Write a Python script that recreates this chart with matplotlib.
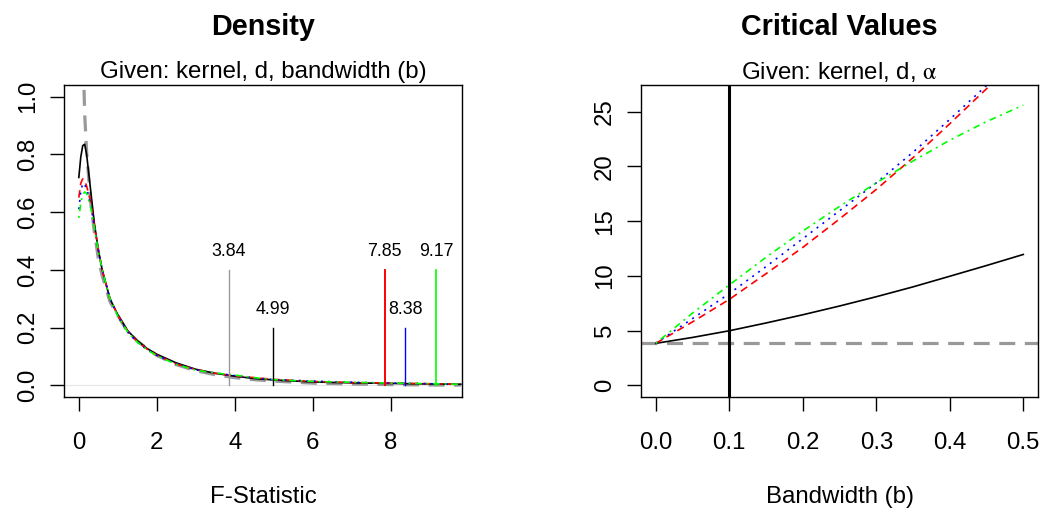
import matplotlib
matplotlib.use("Agg")
import matplotlib.pyplot as plt

plt.rcParams['font.family'] = ['Liberation Sans', 'DejaVu Sans']
plt.rcParams['mathtext.fontset'] = 'stix'

# density panel: F-statistic grid and estimated densities
f_grid = [0, 0.05, 0.1, 0.15, 0.2, 0.3, 0.4, 0.5, 0.6, 0.8, 1.0, 1.25, 1.5, 1.75,
          2.0, 2.5, 3.0, 3.5, 4.0, 4.5, 5.0, 6.0, 7.0, 8.0, 9.0, 9.8]
dens_black = [0.72, 0.79, 0.83, 0.835, 0.80, 0.68, 0.56, 0.47, 0.40, 0.30, 0.245, 0.19, 0.155,
              0.128, 0.108, 0.078, 0.056, 0.042, 0.032, 0.024, 0.019, 0.012, 0.009, 0.007, 0.005, 0.004]
dens_red = [0.65, 0.70, 0.715, 0.71, 0.69, 0.64, 0.55, 0.47, 0.40, 0.30, 0.243, 0.188, 0.152,
            0.126, 0.105, 0.074, 0.055, 0.042, 0.033, 0.027, 0.021, 0.014, 0.010, 0.008, 0.006, 0.004]
dens_blue = [0.61, 0.67, 0.70, 0.695, 0.68, 0.63, 0.55, 0.47, 0.40, 0.30, 0.24, 0.185, 0.150,
             0.124, 0.104, 0.075, 0.054, 0.043, 0.034, 0.026, 0.020, 0.015, 0.011, 0.008, 0.006, 0.004]
dens_green = [0.58, 0.63, 0.66, 0.67, 0.665, 0.62, 0.545, 0.465, 0.40, 0.30, 0.24, 0.186, 0.150,
              0.124, 0.103, 0.073, 0.053, 0.043, 0.036, 0.027, 0.020, 0.014, 0.011, 0.008, 0.006, 0.004]

# chi-square(1) reference density
chi_grid = [0.1, 0.15, 0.2, 0.3, 0.4, 0.5, 0.6, 0.8, 1.0, 1.25, 1.5, 1.75, 2.0, 2.5, 3.0,
            3.5, 4.0, 4.5, 5.0, 6.0, 7.0, 8.0, 9.0, 9.8]
chi_dens = [1.2, 0.94, 0.81, 0.64, 0.53, 0.44, 0.38, 0.29, 0.242, 0.187, 0.154, 0.128, 0.104,
            0.072, 0.051, 0.037, 0.027, 0.020, 0.015, 0.008, 0.005, 0.003, 0.0015, 0.001]

# critical values with their marker heights
crit_vals = [3.84, 4.99, 7.85, 8.38, 9.17]
crit_tops = [0.4, 0.2, 0.4, 0.2, 0.4]
crit_cols = ['#999999', 'black', 'red', 'blue', '#00FF00']
crit_lw = [1.0, 1.0, 1.4, 1.0, 1.2]

# critical values vs bandwidth
bw = [0, 0.05, 0.1, 0.15, 0.2, 0.25, 0.3, 0.35, 0.4, 0.45, 0.5]
cv_black = [3.84, 4.38, 4.99, 5.7, 6.45, 7.25, 8.1, 9.0, 9.97, 10.95, 11.96]
cv_red = [3.84, 5.8, 7.85, 10.2, 12.6, 15.2, 17.9, 20.8, 23.9, 27.1, 30.3]
cv_blue = [3.84, 6.1, 8.38, 10.85, 13.4, 15.95, 18.5, 21.3, 24.3, 27.4, 30.6]
cv_green = [3.84, 6.6, 9.17, 11.7, 14.1, 16.35, 18.5, 20.5, 22.4, 24.1, 25.6]
chi_crit = 3.84
b_chosen = 0.1

W, H = 1043, 512
fig = plt.figure(figsize=(W / 100, H / 100), dpi=100)
ax1 = fig.add_axes([64 / W, 115 / H, 398 / W, 312 / H])
ax2 = fig.add_axes([641 / W, 115 / H, 397 / W, 312 / H])

fs = 17.3
lw = 1.2
dash = (0, (4.5, 3))
dot = (0, (1.2, 3.2))
dotdash = (0, (1.2, 2.8, 4, 2.8))
grey_dash = (0, (5, 3))

# --- Density panel ---
ax1.axhline(0, color='#e6e6e6', lw=0.8, zorder=0)
ax1.plot(chi_grid, chi_dens, color='#999999', lw=2.3, ls=grey_dash)
ax1.plot(f_grid, dens_black, color='black', lw=lw)
ax1.plot(f_grid, dens_red, color='red', lw=lw, ls=dash)
ax1.plot(f_grid, dens_blue, color='blue', lw=lw, ls=dot)
ax1.plot(f_grid, dens_green, color='#00FF00', lw=lw, ls=dotdash)
for v, top, c, w in zip(crit_vals, crit_tops, crit_cols, crit_lw):
    ax1.plot([v, v], [0, top], color=c, lw=w)
    ax1.text(v, top + 0.035, f"{v:.2f}", ha='center', va='bottom', fontsize=12.8)
ax1.set_xlim(-0.38, 9.83)
ax1.set_ylim(-0.04, 1.04)
ax1.set_xticks([0, 2, 4, 6, 8])
ax1.set_yticks([0, 0.2, 0.4, 0.6, 0.8, 1.0])
ax1.set_yticklabels(['0.0', '0.2', '0.4', '0.6', '0.8', '1.0'], rotation=90, va='center')

# --- Critical values panel ---
ax2.axhline(chi_crit, color='#999999', lw=2.3, ls=grey_dash)
ax2.plot(bw, cv_black, color='black', lw=lw)
ax2.plot(bw, cv_red, color='red', lw=lw, ls=dash)
ax2.plot(bw, cv_blue, color='blue', lw=lw, ls=dot)
ax2.plot(bw, cv_green, color='#00FF00', lw=lw, ls=dotdash)
ax2.axvline(b_chosen, color='black', lw=2.2)
ax2.set_xlim(-0.02, 0.52)
ax2.set_ylim(-1.06, 27.44)
ax2.set_xticks([0, 0.1, 0.2, 0.3, 0.4, 0.5])
ax2.set_xticklabels(['0.0', '0.1', '0.2', '0.3', '0.4', '0.5'])
ax2.set_yticks([0, 5, 10, 15, 20, 25])
ax2.set_yticklabels(['0', '5', '10', '15', '20', '25'], rotation=90, va='center')

for ax in (ax1, ax2):
    for s in ax.spines.values():
        s.set_linewidth(1.0)
    ax.tick_params(direction='out', length=10, width=1.0, labelsize=fs)
    ax.tick_params(axis='x', pad=15)
    ax.tick_params(axis='y', pad=8)

cx1 = (64 + 462) / 2 / W
cx2 = (641 + 1038) / 2 / W
fig.text(cx1, 1 - 27 / H, 'Density', ha='center', va='center', fontsize=20.7, fontweight='bold')
fig.text(cx2, 1 - 27 / H, 'Critical Values', ha='center', va='center', fontsize=20.7, fontweight='bold')
fig.text(cx1, 1 - 72 / H, 'Given: kernel, d, bandwidth (b)', ha='center', va='center', fontsize=fs)
fig.text(cx2, 1 - 72 / H, r'Given: kernel, d, $\mathrm{\alpha}$', ha='center', va='center', fontsize=fs)
fig.text(cx1, 1 - 497 / H, 'F-Statistic', ha='center', va='center', fontsize=fs)
fig.text(cx2, 1 - 497 / H, 'Bandwidth (b)', ha='center', va='center', fontsize=fs)

fig.savefig('out.png', dpi=100)
